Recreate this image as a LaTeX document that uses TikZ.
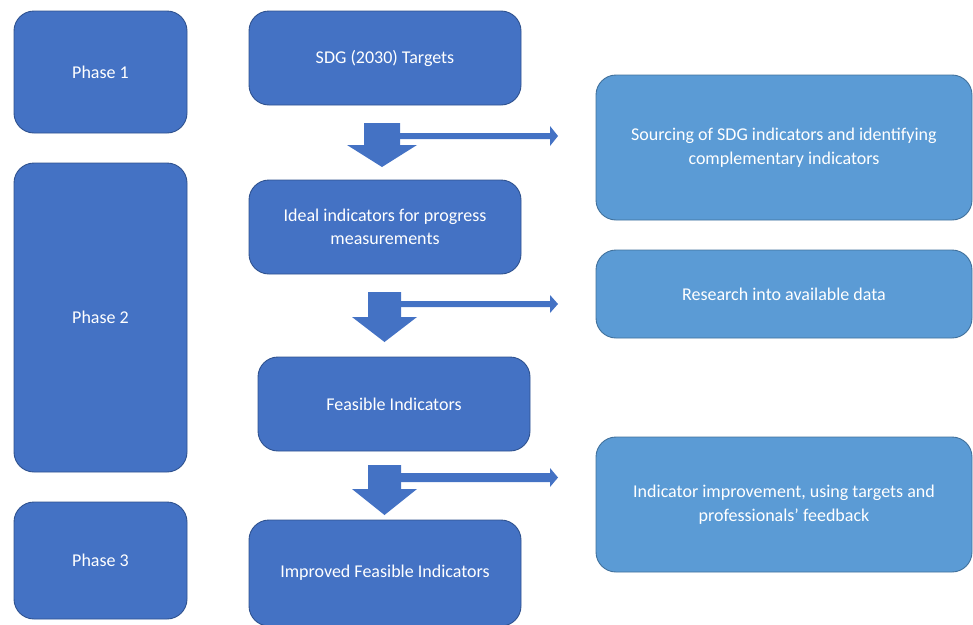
\documentclass[tikz,border=0pt]{standalone}
\usepackage{fontspec}
\setmainfont{Carlito}
\definecolor{dk}{HTML}{4472C4}
\definecolor{dkb}{HTML}{2F528F}
\definecolor{lt}{HTML}{5B9BD5}
\definecolor{ltb}{HTML}{41719C}
\begin{document}
\begin{tikzpicture}[x=1pt,y=-1pt,
  base/.style={rounded corners=20pt, line width=0.9pt, text=white, align=center,
    font=\fontsize{18}{23.5}\selectfont, inner sep=0pt},
  dbox/.style={base, fill=dk, draw=dkb},
  lbox/.style={base, fill=lt, draw=ltb},
  barrow/.style={fill=dk, draw=none}]
\useasboundingbox (0,0) rectangle (973,624);
\clip (0,0) rectangle (973,624);
% phases
\node[dbox, minimum width=173pt, minimum height=122pt] (p1) at (100.5,72) {Phase 1};
\node[dbox, minimum width=173pt, minimum height=309pt] (p2) at (100.5,317.5) {Phase 2};
\node[dbox, minimum width=173pt, minimum height=117pt] (p3) at (100.5,560.5) {Phase 3};
% main column
\node[dbox, minimum width=272pt, minimum height=94pt] (sdg) at (385,58) {SDG (2030) Targets};
\node[dbox, minimum width=272pt, minimum height=94pt] (ideal) at (385,227) {Ideal indicators for progress\\measurements};
\node[dbox, minimum width=272pt, minimum height=94pt] (feas) at (394,404) {Feasible Indicators};
\node[dbox, minimum width=272pt, minimum height=106pt] (impr) at (385,573) {Improved Feasible Indicators};
% right column
\node[lbox, minimum width=376pt, minimum height=145pt] (src) at (784,147.5) {Sourcing of SDG indicators and identifying\\complementary indicators};
\node[lbox, minimum width=376pt, minimum height=88pt] (res) at (784,294) {Research into available data};
\node[lbox, minimum width=376pt, minimum height=135pt] (imp) at (784,504.5) {Indicator improvement, using targets and\\professionals’ feedback};
% block arrows 1
\fill[barrow] (364,123) -- (400,123) -- (400,145) -- (417,145) -- (382,167) -- (347,145) -- (364,145) -- cycle;
\fill[barrow] (400,133) -- (550,133) -- (550,126) -- (558,136) -- (550,146) -- (550,139) -- (400,139) -- cycle;
% block arrows 2
\fill[barrow] (368,292) -- (401,292) -- (401,317) -- (417,317) -- (384.5,342) -- (352,317) -- (368,317) -- cycle;
\fill[barrow] (401,301) -- (550,301) -- (550,295) -- (558,304) -- (550,313) -- (550,307) -- (401,307) -- cycle;
% block arrows 3
\fill[barrow] (368,465) -- (401,465) -- (401,489) -- (417,489) -- (384.5,515) -- (352,489) -- (368,489) -- cycle;
\fill[barrow] (401,473) -- (550,473) -- (550,468) -- (558,477.5) -- (550,487) -- (550,482) -- (401,482) -- cycle;
\end{tikzpicture}
\end{document}
